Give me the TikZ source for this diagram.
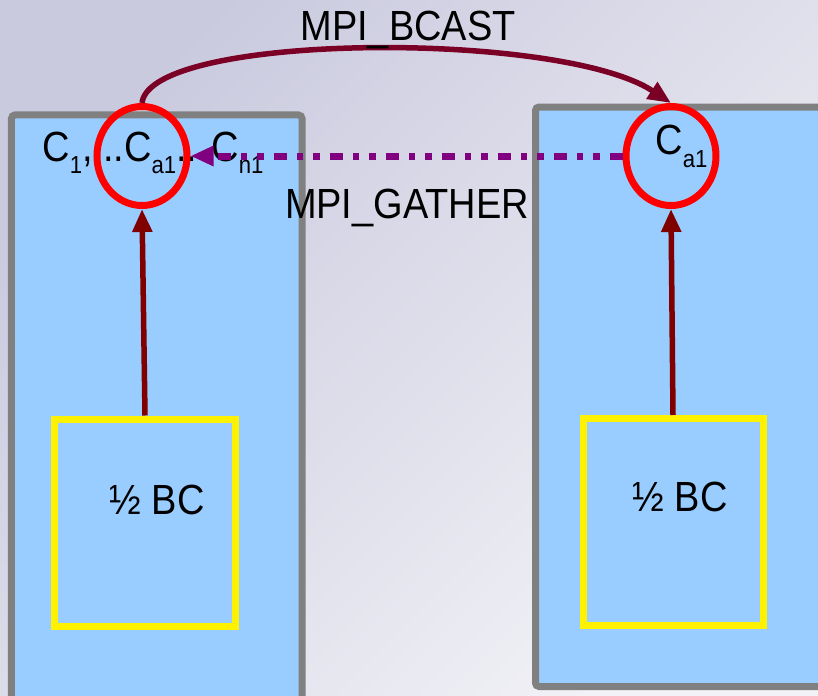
\documentclass[tikz,border=0pt]{standalone}
\usepackage{fontspec}
\setmainfont{Liberation Sans}[FakeStretch=0.9]
\usetikzlibrary{arrows.meta,shapes.geometric}
\definecolor{bgtop}{HTML}{CACADF}
\definecolor{bgbot}{HTML}{F1F1F6}
\definecolor{procblue}{HTML}{99CCFF}
\definecolor{procgray}{HTML}{808080}
\definecolor{upred}{HTML}{800000}
\definecolor{bcastred}{HTML}{7A0026}
\definecolor{gatherpurple}{HTML}{800080}
\newcommand{\lowsub}[1]{\raisebox{-7pt}{\fontsize{14}{14}\selectfont #1}}

\begin{document}
\begin{tikzpicture}[
  font=\fontsize{24}{28}\selectfont,
  >={Triangle[length=.46cm,width=.38cm]},
  proc/.style={draw=procgray,line width=.14cm,fill=procblue,rounded corners=2pt},
  half/.style={draw=yellow,line width=.14cm,minimum width=3.6cm,minimum height=4.14cm,inner sep=0pt},
  ring/.style={ellipse,draw=red,line width=.14cm,minimum width=1.8cm,minimum height=1.98cm,inner sep=0pt},
  txt/.style={anchor=base west,inner sep=0pt},
  up/.style={->,line width=.11cm,upred},
  bcast/.style={->,line width=.11cm,bcastred},
  gather/.style={->,line width=.14cm,gatherpurple,dash pattern=on .26cm off .2cm on .13cm off .2cm on .13cm off .2cm}
]
\clip (0,0) rectangle (16.36,13.9);
\shade[top color=bgtop,bottom color=bgbot,shading angle=45] (0,0) rectangle (16.36,13.9);

% Two processes, each holding half of the boundary conditions.
\draw[proc] (.23,-.4) rectangle (6.04,11.6);
\draw[proc] (10.71,.17) rectangle (16.8,11.76);
\node[half] (halfl) at (2.9,3.45) {};
\node[half] (halfr) at (13.46,3.46) {};
\node (bcl) at (3.14,3.9) {½ BC};
\node (bcr) at (13.6,3.96) {½ BC};

% Coefficients collected on the first process.
\node[txt] (listl) at (.84,10.68) {C\lowsub{1}, ..C\lowsub{a1}.. C\lowsub{n1}};
\node[txt] (car) at (13.1,10.8) {C\lowsub{a1}};
\node[ring] (cl) at (2.84,10.78) {};
\node[ring] (cr) at (13.42,10.78) {};

\draw[up] (halfl.north) -- (cl.south);
\draw[up] (halfr.north) -- (cr.south);

% Communication between the processes.
\draw[bcast] (cl.north) .. controls (3.0,13.25) and (11.2,13.3) .. (cr.north);
\node (bcastlbl) at (8.16,13.3) {MPI\_BCAST};
\draw[gather] (cr.west) -- (cl.east);
\node (gatherlbl) at (8.14,9.74) {MPI\_GATHER};
\end{tikzpicture}
\end{document}
